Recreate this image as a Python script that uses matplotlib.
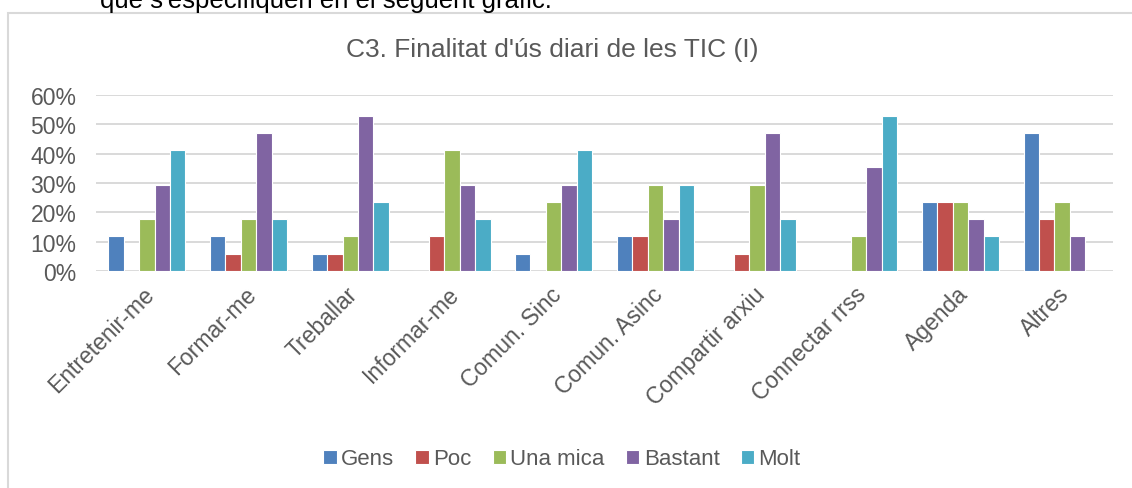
import matplotlib
matplotlib.use("Agg")
import matplotlib.pyplot as plt
import numpy as np
from matplotlib.patches import Rectangle

plt.rcParams['font.family'] = ['Liberation Sans', 'DejaVu Sans']

categories = ['Entretenir-me', 'Formar-me', 'Treballar', 'Informar-me', 'Comun. Sinc',
              'Comun. Asinc', 'Compartir arxiu', 'Connectar rrss', 'Agenda', 'Altres']
series = ['Gens', 'Poc', 'Una mica', 'Bastant', 'Molt']
gens = [11.8, 11.8, 5.9, 0.0, 5.9, 11.8, 0.0, 0.0, 23.5, 47.1]
poc = [0.0, 5.9, 5.9, 11.8, 0.0, 11.8, 5.9, 0.0, 23.5, 17.6]
una_mica = [17.6, 17.6, 11.8, 41.2, 23.5, 29.4, 29.4, 11.8, 23.5, 23.5]
bastant = [29.4, 47.1, 52.9, 29.4, 29.4, 17.6, 47.1, 35.3, 17.6, 11.8]
molt = [41.2, 17.6, 23.5, 17.6, 41.2, 29.4, 17.6, 52.9, 11.8, 0.0]
colors = ['#4F81BD', '#C0504D', '#9BBB59', '#8064A2', '#4BACC6']

txt = '#595959'
W, H = 1132, 489
fig = plt.figure(figsize=(W / 100, H / 100), dpi=100)

# frame of the embedded chart
fig.patches.append(Rectangle((8 / W, -0.1), 1.2, 1 - 14 / H + 0.1, transform=fig.transFigure,
                             fill=False, edgecolor='#D9D9D9', linewidth=1.5))
# cropped document text above the chart
fig.text(100 / W, 1 - 8 / H, "que s'especifiquen en el següent gràfic.", fontsize=18.5,
         color='black', ha='left', va='baseline')

ax = fig.add_axes([96 / W, 1 - 272 / H, (1113 - 96) / W, (272 - 96) / H])
x = np.arange(len(categories))
w = 0.152
for i, (name, vals) in enumerate(zip(series, [gens, poc, una_mica, bastant, molt])):
    ax.bar(x + (i - 2) * w, np.array(vals) / 100, w, color=colors[i], label=name,
           edgecolor='white', linewidth=0.8, zorder=3)

ax.set_xlim(-0.5, len(categories) - 0.5)
ax.set_ylim(0, 0.6)
ax.set_yticks(np.arange(0, 0.61, 0.1))
ax.set_yticklabels([f'{int(round(v * 100))}%' for v in np.arange(0, 0.61, 0.1)])
ax.grid(axis='y', color='#D9D9D9', linewidth=1.4, zorder=0)
for s in ax.spines.values():
    s.set_visible(False)
ax.tick_params(axis='y', length=0, pad=14, labelsize=16.5, labelcolor=txt)
ax.tick_params(axis='x', length=0, pad=14, labelsize=16.5, labelcolor=txt)
ax.set_xticks(x + 0.04)
ax.set_xticklabels(categories, rotation=45, ha='right', va='center', rotation_mode='anchor')

fig.text(552 / W, 1 - 50 / H, "C3. Finalitat d'ús diari de les TIC (I)", fontsize=19,
         color=txt, ha='center', va='center')

fig.legend(loc='center', bbox_to_anchor=(562 / W, 1 - 460 / H), ncol=5, frameon=False,
           fontsize=16, labelcolor=txt, handlelength=0.6, handleheight=0.6,
           handletextpad=0.2, columnspacing=0.95)

fig.savefig('out.png', dpi=100, facecolor='white')
